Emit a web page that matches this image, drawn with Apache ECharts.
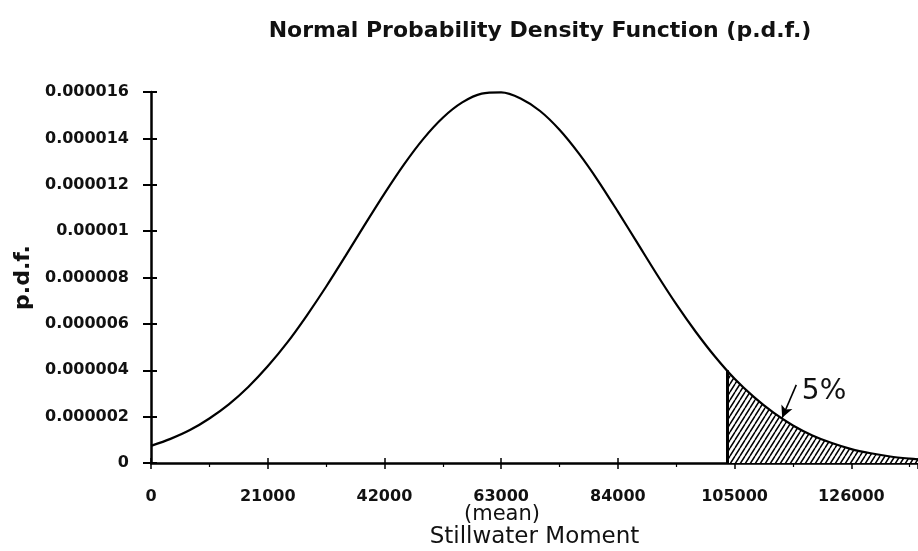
<!DOCTYPE html>
<html>
<head>
<meta charset="utf-8">
<script src="https://cdn.jsdelivr.net/npm/echarts@6/dist/echarts.min.js"></script>
<style>
  html, body { margin: 0; padding: 0; background: #fff; }
  #main { width: 918px; height: 551px; }
</style>
</head>
<body>
<div id="main"></div>
<script>
// 读图得到的数据 (x = Stillwater Moment, y = p.d.f.)
var xVals = [0, 3500, 7000, 10500, 14000, 17500, 21000, 24500, 28000, 31500, 35000,
             38500, 42000, 45500, 49000, 52500, 56000, 59500, 63000, 66500, 70000,
             73500, 77000, 80500, 84000, 87500, 91000, 94500, 98000, 101500, 105000,
             108500, 112000, 115500, 119000, 122500, 126000, 129500, 133000, 136500, 140000];
var pdfVals = [0.74e-6, 1.04e-6, 1.42e-6, 1.92e-6, 2.53e-6, 3.28e-6, 4.17e-6, 5.19e-6, 6.35e-6, 7.60e-6, 8.93e-6,
               10.29e-6, 11.62e-6, 12.87e-6, 13.98e-6, 14.89e-6, 15.55e-6, 15.93e-6, 15.98e-6, 15.72e-6, 15.18e-6,
               14.37e-6, 13.34e-6, 12.15e-6, 10.84e-6, 9.49e-6, 8.14e-6, 6.85e-6, 5.66e-6, 4.58e-6, 3.63e-6,
               2.84e-6, 2.17e-6, 1.62e-6, 1.19e-6, 0.86e-6, 0.60e-6, 0.42e-6, 0.28e-6, 0.19e-6, 0.12e-6];
// 5% 尾部 (阴影区)
var tailX = [103760, 105000, 108500, 112000, 115500, 119000, 122500, 126000, 129500, 133000, 136500, 140000];
var tailY = [4.0e-6, 3.63e-6, 2.84e-6, 2.17e-6, 1.62e-6, 1.19e-6, 0.86e-6, 0.60e-6, 0.42e-6, 0.28e-6, 0.19e-6, 0.12e-6];
var xTickLabels = ['0', '21000', '42000', '63000', '84000', '105000', '126000'];
var yTickLabels = ['0', '0.000002', '0.000004', '0.000006', '0.000008', '0.00001', '0.000012', '0.000014', '0.000016'];
// 箭头 + 标注
var arrowFrom = [116100, 3.37e-6];
var arrowTo = [113560, 1.95e-6];
var notePos = [121100, 3.07e-6];

function zip(a, b) {
  var out = [];
  for (var i = 0; i < a.length; i++) out.push([a[i], b[i]]);
  return out;
}

// 斜线填充图案
var hw = 5, hh = 8;
var hatch = document.createElement('canvas');
hatch.width = hw; hatch.height = hh;
var hc = hatch.getContext('2d');
hc.fillStyle = '#fff';
hc.fillRect(0, 0, hw, hh);
hc.strokeStyle = '#000';
hc.lineWidth = 1.5;
hc.beginPath();
for (var k = -1; k <= 1; k++) {
  hc.moveTo(k * hw, hh); hc.lineTo(k * hw + hw, 0);
}
hc.stroke();

var fontFam = 'DejaVu Sans';
var myChart = echarts.init(document.getElementById('main'));
myChart.setOption({
  animation: false,
  title: {
    text: 'Normal Probability Density Function (p.d.f.)',
    left: 535, top: 15, textAlign: 'center',
    textStyle: { fontFamily: fontFam, fontSize: 22, fontWeight: 'bold', color: '#111' }
  },
  grid: { left: 151, right: 0, top: 92, bottom: 88, outerBoundsMode: 'none', containLabel: false },
  xAxis: [{
    type: 'value', min: 0, max: 138000, interval: 21000,
    axisLine: { lineStyle: { color: '#000', width: 2.5 } },
    axisTick: { show: true, length: 6, lineStyle: { color: '#000', width: 1.5 } },
    minorTick: { show: true, splitNumber: 2, length: 4, lineStyle: { color: '#000', width: 1.2 } },
    splitLine: { show: false },
    axisLabel: {
      showMaxLabel: false, margin: 26,
      fontFamily: fontFam, fontSize: 16, fontWeight: 'bold', color: '#111',
      formatter: function (v) { return xTickLabels[Math.round(v / 21000)] || ''; }
    },
    name: 'Stillwater Moment', nameLocation: 'middle', nameGap: 63,
    nameTextStyle: { fontFamily: fontFam, fontSize: 23, color: '#111' }
  }, {
    type: 'value', min: 0, max: 138000, interval: 21000, position: 'bottom',
    axisLine: { show: false },
    axisTick: { show: true, inside: true, length: 5, lineStyle: { color: '#000', width: 1.5 } },
    axisLabel: { show: false }, splitLine: { show: false }
  }],
  yAxis: [{
    type: 'value', min: 0, max: 16e-6, interval: 2e-6,
    axisLine: { show: true, lineStyle: { color: '#000', width: 2.5 } },
    axisTick: { show: true, length: 8, lineStyle: { color: '#000', width: 2 } },
    splitLine: { show: false },
    axisLabel: {
      margin: 22, fontFamily: fontFam, fontSize: 16, fontWeight: 'bold', color: '#111',
      formatter: function (v) { return yTickLabels[Math.round(v / 2e-6)]; }
    },
    name: 'p.d.f.', nameLocation: 'middle', nameGap: 109, nameRotate: 90,
    nameTextStyle: { fontFamily: fontFam, fontSize: 22, fontWeight: 'bold', color: '#111' }
  }, {
    type: 'value', min: 0, max: 16e-6, interval: 2e-6, position: 'left',
    axisLine: { show: false },
    axisTick: { show: true, inside: true, length: 6, lineStyle: { color: '#000', width: 2 } },
    axisLabel: { show: false }, splitLine: { show: false }
  }],
  graphic: [{
    type: 'text', x: 502, y: 515,
    style: { text: '(mean)', font: '21px "DejaVu Sans"', fill: '#111', align: 'center', verticalAlign: 'middle' }
  }],
  series: [{
    name: 'tail', type: 'line', smooth: 0.3, symbol: 'none',
    data: zip(tailX, tailY),
    lineStyle: { width: 0 },
    areaStyle: { color: { image: hatch, repeat: 'repeat' }, opacity: 1 },
    markLine: {
      silent: true, symbol: 'none', animation: false,
      lineStyle: { color: '#000', width: 3, type: 'solid' },
      label: { show: false },
      data: [[{ coord: [tailX[0], 0] }, { coord: [tailX[0], tailY[0]] }]]
    },
    z: 1
  }, {
    name: 'pdf', type: 'line', smooth: 0.3, symbol: 'none',
    data: zip(xVals, pdfVals),
    lineStyle: { color: '#000', width: 2.2 },
    markLine: {
      silent: true, symbol: ['none', 'arrow'], symbolSize: [9, 12], animation: false,
      lineStyle: { color: '#000', width: 1.6, type: 'solid' },
      label: { show: false },
      data: [[{ coord: arrowFrom }, { coord: arrowTo }]]
    },
    markPoint: {
      silent: true, symbol: 'circle', symbolSize: 0,
      label: { show: true, formatter: '5%', fontFamily: fontFam, fontSize: 28, color: '#111' },
      data: [{ coord: notePos }]
    },
    z: 3
  }]
});
</script>
</body>
</html>
